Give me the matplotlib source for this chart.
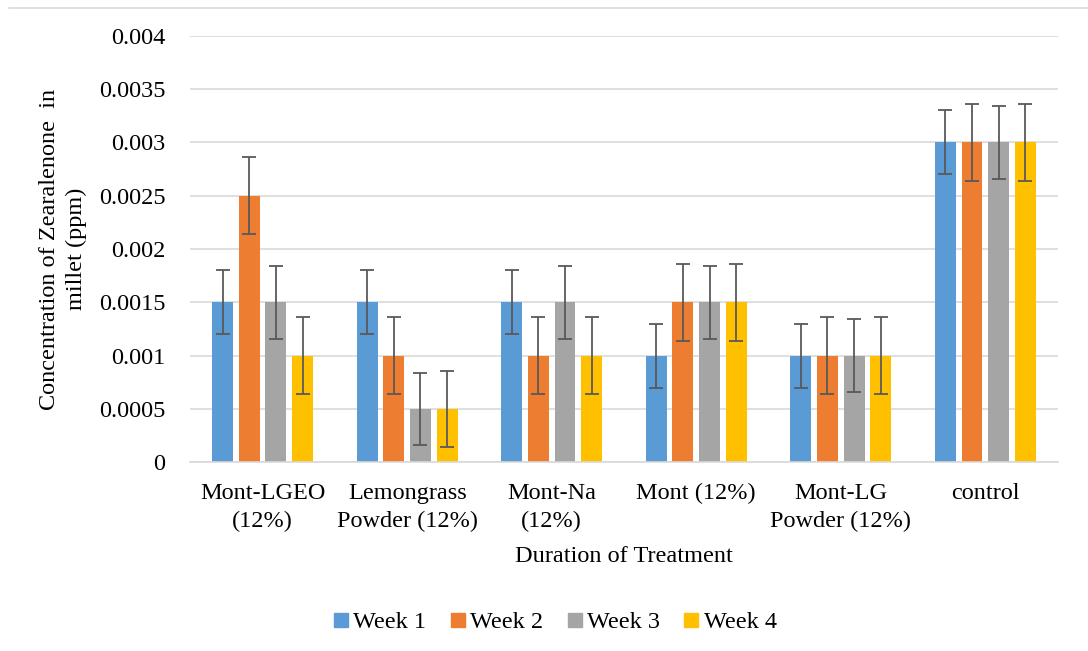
import numpy as np
import matplotlib
matplotlib.use('Agg')
import matplotlib.pyplot as plt
from matplotlib.lines import Line2D

groups = ['Mont-LGEO\n(12%)', 'Lemongrass\nPowder (12%)', 'Mont-Na\n(12%)',
	'Mont (12%)', 'Mont-LG\nPowder (12%)', 'control']
weeks = ['Week 1', 'Week 2', 'Week 3', 'Week 4']
week1 = [0.0015, 0.0015, 0.0015, 0.001, 0.001, 0.003]
week2 = [0.0025, 0.001, 0.001, 0.0015, 0.001, 0.003]
week3 = [0.0015, 0.0005, 0.0015, 0.0015, 0.001, 0.003]
week4 = [0.001, 0.0005, 0.001, 0.0015, 0.001, 0.003]
err1 = [0.0003] * 6
err2 = [0.00036] * 6
err3 = [0.00034] * 6
err4 = [0.00036] * 6

colors = ['#5b9bd5', '#ed7d31', '#a5a5a5', '#ffc000']
FS = 17.5

plt.rcParams['font.family'] = ['Liberation Serif', 'DejaVu Serif']

fig = plt.figure(figsize=(10.88, 6.51), dpi=100)
ax = fig.add_axes([0.175, 0.29, 0.797, 0.655])

x = np.arange(len(groups))
pitch, width = 0.184, 0.145
series = [(week1, err1), (week2, err2), (week3, err3), (week4, err4)]
for i, (vals, errs) in enumerate(series):
	pos = x + (i - 1.5) * pitch
	ax.bar(pos, vals, width, color=colors[i], label=weeks[i], zorder=2)
	ax.errorbar(pos, vals, yerr=errs, fmt='none', ecolor='#595959',
		elinewidth=1.3, capsize=4.8, capthick=1.3, zorder=3)

ax.set_xlim(-0.5, len(groups) - 0.5)
ax.set_ylim(0, 0.004)
ax.set_yticks(np.arange(0, 0.00401, 0.0005))
ax.set_yticklabels(['0', '0.0005', '0.001', '0.0015', '0.002', '0.0025',
	'0.003', '0.0035', '0.004'])
ax.set_xticks(x)
ax.set_xticklabels(groups, linespacing=1.4)
ax.tick_params(axis='both', length=0, labelsize=FS, colors='black')
ax.tick_params(axis='y', pad=18)
ax.tick_params(axis='x', pad=15)
ax.yaxis.grid(True, color='#d9d9d9', linewidth=1.2, zorder=0)
ax.set_axisbelow(True)
for s in ['top', 'right', 'left']:
	ax.spines[s].set_visible(False)
ax.spines['bottom'].set_color('#d9d9d9')
ax.spines['bottom'].set_linewidth(1.2)

ax.set_xlabel('Duration of Treatment', fontsize=FS, labelpad=10)
fig.text(0.058, 0.6175, 'Concentration of Zearalenone  in\nmillet (ppm)',
	rotation=90, ha='center', va='center', fontsize=FS, linespacing=1.35)

handles = [Line2D([], [], marker='s', linestyle='none', markersize=10,
	color=c) for c in colors]
fig.legend(handles, weeks, loc='center', bbox_to_anchor=(0.508, 0.044),
	ncol=4, frameon=False, fontsize=FS, handletextpad=0.0,
	columnspacing=0.8, handlelength=1.0)

fig.add_artist(Line2D([0.008, 1.0], [0.988, 0.988], color='#d9d9d9',
	linewidth=1.2, transform=fig.transFigure))

fig.savefig('out.png', dpi=100)
